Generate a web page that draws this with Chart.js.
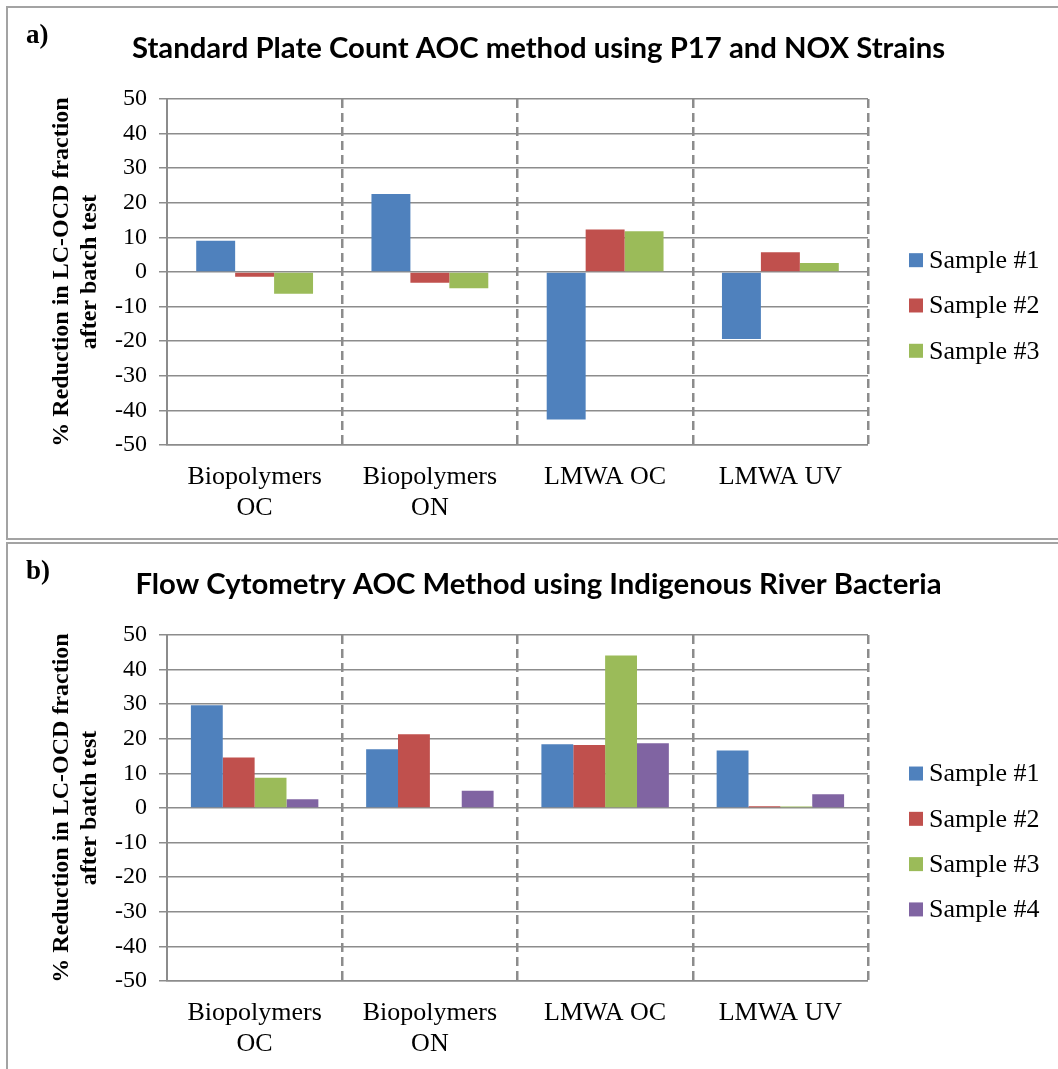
<!DOCTYPE html>
<html>
<head>
<meta charset="utf-8">
<script src="https://cdn.jsdelivr.net/npm/chart.js@4.4.0/dist/chart.umd.min.js"></script>
<style>
  html, body { margin: 0; padding: 0; background: #fff; overflow: hidden; }
  .painel { position: absolute; left: 6px; width: 1060px; border: 2px solid #a3a3a3; }
  #painelA { top: 6px; height: 530px; }
  #painelB { top: 542px; height: 540px; }
  canvas { position: absolute; left: 0; }
  #graficoA { top: 0; }
  #graficoB { top: 536px; }
</style>
</head>
<body>
<div class="painel" id="painelA"></div>
<div class="painel" id="painelB"></div>
<canvas id="graficoA" width="1058" height="536"></canvas>
<canvas id="graficoB" width="1058" height="536"></canvas>
<script>
// categorias do eixo x (duas linhas quando o nome é longo)
const categorias = [['Biopolymers', 'OC'], ['Biopolymers', 'ON'], 'LMWA OC', 'LMWA UV'];
const amostras = ['Sample #1', 'Sample #2', 'Sample #3', 'Sample #4'];
const cores = ['#4F81BD', '#C0504D', '#9BBB59', '#8064A2'];

// eixo y: de -50 a 50, de 10 em 10
const yMin = -50;
const yMax = 50;
const yPasso = 10;

// a) contagem em placa (P17 e NOX)
const placaAmostra1 = [9.0, 22.5, -42.6, -19.4];
const placaAmostra2 = [-1.4, -3.1, 12.3, 5.7];
const placaAmostra3 = [-6.3, -4.7, 11.8, 2.6];

// b) citometria de fluxo (bactérias do rio)
const citoAmostra1 = [29.7, 17.0, 18.4, 16.6];
const citoAmostra2 = [14.6, 21.3, 18.2, 0.5];
const citoAmostra3 = [8.7, 0, 44.1, 0.4];
const citoAmostra4 = [2.5, 5.0, 18.7, 4.0];

const tituloY = ['% Reduction in LC-OCD fraction', 'after batch test'];
const cinza = '#8c8c8c';

// letra do painel e legenda à direita
const decoracao = {
  id: 'decoracao',
  afterDraw(chart, args, opts) {
    const ctx = chart.ctx;
    const area = chart.chartArea;
    ctx.save();
    ctx.fillStyle = '#000';
    ctx.font = 'bold 27px "Liberation Serif"';
    ctx.textBaseline = 'alphabetic';
    ctx.fillText(opts.letra, 26, 43);

    const ds = chart.data.datasets;
    const meio = (area.top + area.bottom) / 2 + 33.5;
    ctx.font = '26px "Liberation Serif"';
    ctx.textBaseline = 'middle';
    ds.forEach((d, i) => {
      const y = meio + (i - (ds.length - 1) / 2) * 45.3;
      ctx.fillStyle = d.backgroundColor;
      ctx.fillRect(909, y - 7, 14, 14);
      ctx.fillStyle = '#000';
      ctx.fillText(d.label, 929, y + 1);
    });
    ctx.restore();
  }
};

function montaGrafico(id, titulo, letra, series) {
  const n = series.length;
  const ctx = document.getElementById(id).getContext('2d');
  new Chart(ctx, {
    type: 'bar',
    data: {
      labels: categorias,
      datasets: series.map((valores, i) => ({
        label: amostras[i],
        data: valores,
        backgroundColor: cores[i],
        categoryPercentage: n / (n + 1.5), // espaço entre grupos de 150%
        barPercentage: 1
      }))
    },
    options: {
      responsive: false,
      animation: false,
      layout: { padding: { left: 19, right: 0, top: 0, bottom: 0 } },
      plugins: {
        legend: { display: false },
        tooltip: { enabled: false },
        title: {
          display: true,
          text: titulo,
          color: '#000',
          font: { family: 'Lato', size: 29.3, weight: 'bold', lineHeight: 1.2 },
          padding: { top: 30.5, bottom: 33.3 }
        },
        decoracao: { letra: letra }
      },
      scales: {
        x: {
          grid: {
            color: cinza,
            lineWidth: c => (c.index === 0 ? 0 : 2.5), // a borda esquerda é o eixo y
            drawTicks: false,
            offset: true
          },
          border: { dash: [9, 5], color: cinza, width: 1.5 },
          ticks: {
            color: '#000',
            padding: 16,
            maxRotation: 0,
            autoSkip: false,
            font: { family: 'Liberation Serif', size: 26, lineHeight: 1.21 }
          },
          afterFit: s => { s.height = 91; }
        },
        y: {
          min: yMin,
          max: yMax,
          ticks: {
            stepSize: yPasso,
            color: '#000',
            padding: 12,
            font: { family: 'Liberation Serif', size: 24 }
          },
          grid: { color: cinza, lineWidth: 1.5, tickLength: 8 },
          border: { color: cinza, width: 2 },
          title: {
            display: true,
            text: tituloY,
            color: '#000',
            font: { family: 'Liberation Serif', size: 24, weight: 'bold', lineHeight: 1.15 },
            padding: { top: 29, bottom: 0 }
          },
          afterFit: s => { s.width = 148; }
        },
        // espaço reservado para a legenda
        margem: {
          type: 'linear',
          position: 'right',
          ticks: { display: false },
          grid: { display: false },
          border: { display: false },
          afterFit: s => { s.width = 190; }
        }
      }
    },
    plugins: [decoracao]
  });
}

montaGrafico('graficoA', 'Standard Plate Count AOC method using P17 and NOX Strains', 'a)',
  [placaAmostra1, placaAmostra2, placaAmostra3]);
montaGrafico('graficoB', 'Flow Cytometry AOC Method using Indigenous River Bacteria', 'b)',
  [citoAmostra1, citoAmostra2, citoAmostra3, citoAmostra4]);
</script>
</body>
</html>
